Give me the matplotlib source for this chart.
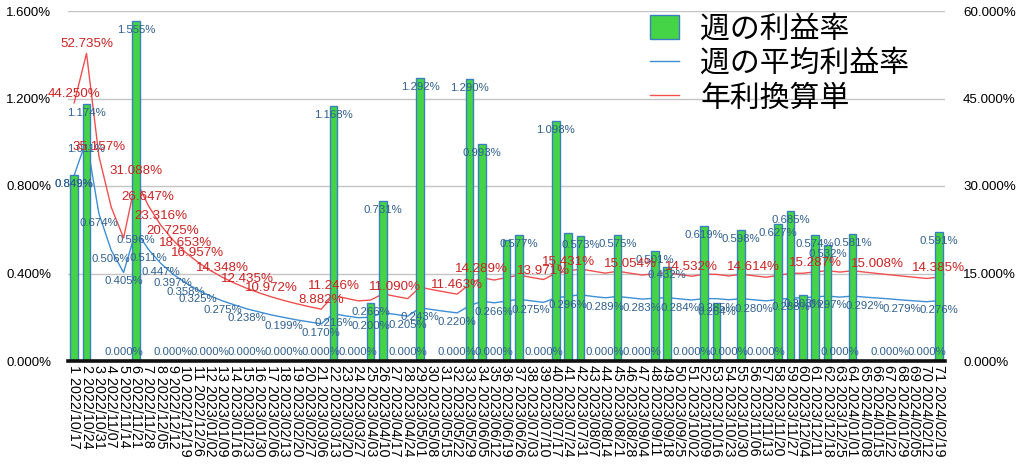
import numpy as np
import matplotlib.pyplot as plt
from matplotlib.patches import Patch
from matplotlib.lines import Line2D
from matplotlib.ticker import FuncFormatter

plt.rcParams['font.family'] = ['Liberation Sans', 'Noto Sans CJK JP', 'DejaVu Sans']

# 週番号と日付
weeks = list(range(1, 72))
dates = ['2022/10/17', '2022/10/24', '2022/10/31', '2022/11/07', '2022/11/14', '2022/11/21',
         '2022/11/28', '2022/12/05', '2022/12/12', '2022/12/19', '2022/12/26', '2023/01/02',
         '2023/01/09', '2023/01/16', '2023/01/23', '2023/01/30', '2023/02/06', '2023/02/13',
         '2023/02/20', '2023/02/27', '2023/03/06', '2023/03/13', '2023/03/20', '2023/03/27',
         '2023/04/03', '2023/04/10', '2023/04/17', '2023/04/24', '2023/05/01', '2023/05/08',
         '2023/05/15', '2023/05/22', '2023/05/29', '2023/06/05', '2023/06/12', '2023/06/19',
         '2023/06/26', '2023/07/03', '2023/07/10', '2023/07/17', '2023/07/24', '2023/07/31',
         '2023/08/07', '2023/08/14', '2023/08/21', '2023/08/28', '2023/09/04', '2023/09/11',
         '2023/09/18', '2023/09/25', '2023/10/02', '2023/10/09', '2023/10/16', '2023/10/23',
         '2023/10/30', '2023/11/06', '2023/11/13', '2023/11/20', '2023/11/27', '2023/12/04',
         '2023/12/11', '2023/12/18', '2023/12/25', '2024/01/01', '2024/01/08', '2024/01/15',
         '2024/01/22', '2024/01/29', '2024/02/05', '2024/02/12', '2024/02/19']

# 週の利益率 (%)
weekly = [0.849, 1.174, 0, 0, 0, 1.555, 0, 0, 0, 0,
          0, 0, 0, 0, 0, 0, 0, 0, 0, 0,
          0, 1.168, 0, 0, 0.266, 0.731, 0, 0, 1.292, 0,
          0, 0, 1.290, 0.993, 0, 0.555, 0.577, 0, 0, 1.098,
          0.585, 0.573, 0, 0, 0.575, 0, 0, 0.501, 0.432, 0,
          0, 0.619, 0.264, 0, 0.598, 0, 0, 0.627, 0.685, 0.303,
          0.574, 0.532, 0, 0.581, 0, 0, 0, 0, 0, 0,
          0.591]

# 週の平均利益率 (%)
avg_rate = [0.849, 1.011, 0.674, 0.506, 0.405, 0.596, 0.511, 0.447, 0.397, 0.358,
            0.325, 0.298, 0.275, 0.256, 0.238, 0.224, 0.210, 0.199, 0.188, 0.179,
            0.170, 0.216, 0.206, 0.198, 0.200, 0.221, 0.213, 0.205, 0.243, 0.235,
            0.227, 0.220, 0.252, 0.274, 0.266, 0.274, 0.282, 0.275, 0.268, 0.289,
            0.296, 0.303, 0.295, 0.289, 0.295, 0.289, 0.283, 0.287, 0.290, 0.284,
            0.279, 0.285, 0.285, 0.280, 0.285, 0.280, 0.275, 0.281, 0.288, 0.289,
            0.293, 0.297, 0.292, 0.297, 0.292, 0.288, 0.284, 0.279, 0.275, 0.271,
            0.276]

# 年利換算単 (%)
annual = [44.250, 52.735, 35.157, 26.370, 21.100, 31.088, 26.647, 23.316, 20.725, 18.653,
          16.957, 15.547, 14.348, 13.326, 12.435, 11.661, 10.972, 10.365, 9.820, 9.328,
          8.882, 11.246, 10.760, 10.311, 10.454, 11.517, 11.090, 10.695, 12.649, 12.228,
          11.833, 11.463, 13.154, 14.289, 13.882, 14.300, 14.727, 14.339, 13.971, 15.054,
          15.431, 15.774, 15.408, 15.057, 15.389, 15.054, 14.734, 14.972, 15.126, 14.823,
          14.532, 14.874, 14.853, 14.578, 14.880, 14.614, 14.358, 14.674, 15.030, 15.043,
          15.287, 15.488, 15.242, 15.478, 15.239, 15.008, 14.785, 14.567, 14.356, 14.151,
          14.385]

# 表示されているラベルの週
bar_lab = [1, 2, 5, 6, 9, 12, 15, 18, 21, 22, 24, 25, 26, 28, 29, 32, 33, 34, 35, 37,
           39, 40, 42, 44, 45, 47, 48, 49, 51, 52, 53, 54, 55, 57, 58, 59, 60, 61, 62, 63,
           64, 67, 70, 71]
avg_lab = [1, 2, 3, 4, 5, 6, 7, 8, 9, 10, 11, 13, 15, 18, 21, 22, 25, 28, 29, 32, 35,
           38, 41, 44, 47, 50, 53, 56, 59, 62, 65, 68, 71]
ann_lab = [1, 2, 3, 6, 7, 8, 9, 10, 11, 13, 15, 17, 21, 22, 27, 32, 34, 39, 41, 46, 51,
           56, 61, 66, 71]

green = '#45d445'
bar_edge = '#3a7fbf'
blue = '#3d8fd6'
blue_txt = '#30608f'
red = '#f05050'
red_txt = '#cc2424'

fig = plt.figure(figsize=(10.24, 4.75), dpi=100)
ax = fig.add_axes([68/1024, 1-361/475, (945-68)/1024, (361-11)/475])
ax2 = ax.twinx()

# 背景とグリッドは ax2 側に
ax.set_zorder(ax2.get_zorder() + 1)
ax.patch.set_visible(False)
ax2.patch.set_facecolor('#e8e8e8')

x = np.array(weeks)
ax2.plot(x, annual, color=red, lw=1.0, zorder=2)
ax.plot(x, avg_rate, color=blue, lw=1.0, zorder=2)
ax.bar(x, weekly, width=0.62, color=green, edgecolor=bar_edge, linewidth=1.0, zorder=3)

ax.set_xlim(0.5, 71.5)
ax.set_ylim(0, 1.6)
ax2.set_ylim(0, 60)
ax.set_yticks([0, 0.4, 0.8, 1.2, 1.6])
ax2.set_yticks([0, 15, 30, 45, 60])
ax.yaxis.set_major_formatter(FuncFormatter(lambda v, p: f'{v:.3f}%'))
ax2.yaxis.set_major_formatter(FuncFormatter(lambda v, p: f'{v:.3f}%'))
ax2.grid(axis='y', color='#c4c4c4', lw=1.0)
ax2.set_axisbelow(True)

ax.set_xticks(x)
ax.set_xticklabels([f'{w} {d}' for w, d in zip(weeks, dates)], rotation=-90,
                   fontsize=10.3, va='top', ha='center')
ax.tick_params(axis='x', length=0, pad=3)
ax.tick_params(axis='y', length=0, pad=12, labelsize=9.5)
ax2.tick_params(axis='y', length=0, pad=13, labelsize=9.6)

for a in (ax, ax2):
    for s in ('top', 'left', 'right'):
        a.spines[s].set_visible(False)
ax2.spines['bottom'].set_visible(False)
ax.spines['bottom'].set_linewidth(2.6)
ax.spines['bottom'].set_color('#111111')
ax.spines['bottom'].set_zorder(5)

# データラベル
for w in bar_lab:
    v = weekly[w-1]
    dy = -9 if v > 0 else 9
    ax.annotate(f'{v:.3f}%', (w, v), xytext=(0, dy), textcoords='offset pixels',
                ha='center', va='center', fontsize=8.2, color=blue_txt, zorder=6)
for w in avg_lab:
    v = avg_rate[w-1]
    ax.annotate(f'{v:.3f}%', (w, v), xytext=(0, -9), textcoords='offset pixels',
                ha='center', va='center', fontsize=8.2, color=blue_txt, zorder=6)
for w in ann_lab:
    v = annual[w-1]
    ax.annotate(f'{v:.3f}%', (w, v), xycoords=ax2.transData, xytext=(0, 9),
                textcoords='offset pixels', ha='center', va='center',
                fontsize=9.6, color=red_txt, zorder=6)

handles = [Patch(facecolor=green, edgecolor=bar_edge, linewidth=1.0),
           Line2D([], [], color=blue, lw=1.0),
           Line2D([], [], color=red, lw=1.0)]
labels = ['週の利益率', '週の平均利益率', '年利換算単']
fig.legend(handles, labels, loc='upper left', bbox_to_anchor=(0.614, 1.016),
           frameon=False, prop={'family': ['Noto Sans CJK JP'], 'size': 21.5},
           handlelength=1.0, handleheight=0.9, handletextpad=0.7,
           labelspacing=0.12, borderpad=0.2)

fig.savefig('out.png', dpi=100)
